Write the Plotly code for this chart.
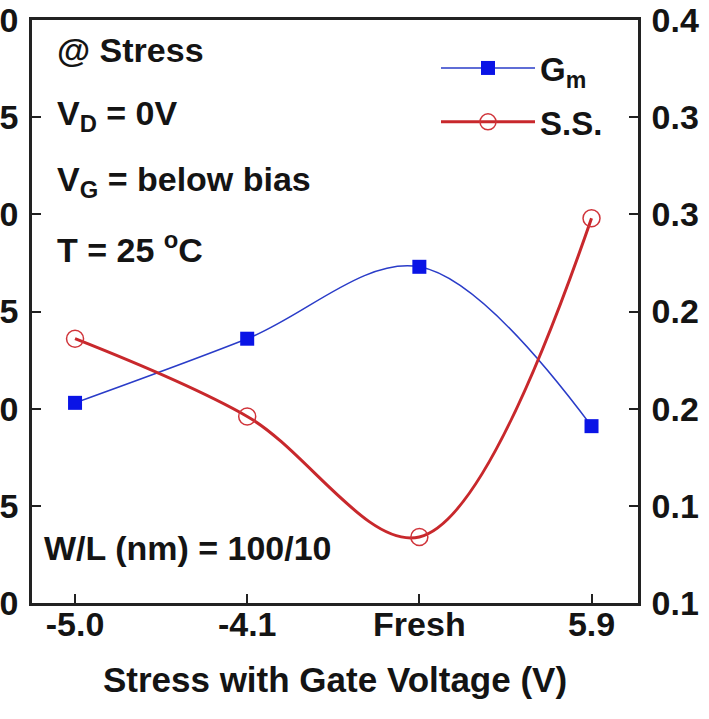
import plotly.graph_objects as go

categories = ["-5.0", "-4.1", "Fresh", "5.9"]
gm_values = [10.3, 13.6, 17.3, 9.1]
ss_values = [0.236, 0.196, 0.134, 0.298]

left_tickvals = [0, 5, 10, 15, 20, 25, 30]
left_ticktext = ["0", "5", "0", "5", "0", "5", "0"]
right_tickvals = [0.10, 0.15, 0.20, 0.25, 0.30, 0.35, 0.40]
right_ticktext = ["0.1", "0.1", "0.2", "0.2", "0.3", "0.3", "0.4"]

FONT = "Liberation Sans, Arial, sans-serif"
TXT = "#141414"
xidx = list(range(len(categories)))

fig = go.Figure()
fig.add_trace(go.Scatter(
    x=xidx, y=gm_values, name="G<sub>m</sub>", mode="lines+markers",
    line=dict(color="#2a3cc8", width=1.5, shape="spline", smoothing=1.0),
    marker=dict(symbol="square", size=14, color="#0a14e6", line=dict(width=0)),
    yaxis="y", legendgroup="gm",
))
fig.add_trace(go.Scatter(
    x=xidx, y=ss_values, name="S.S.", mode="lines+markers",
    line=dict(color="#c8282c", width=3, shape="spline", smoothing=1.0),
    marker=dict(symbol="circle-open", size=17, color="#d0343a", line=dict(width=1.5)),
    yaxis="y2", legendgroup="ss",
))

PL, PR, PT, PB = 32, 638, 20, 603
PW, PH = PR - PL, PB - PT


def px(x):
    return (x - PL) / PW


def py(y):
    return 1 - (y - PT) / PH


ann = [
    ("@ Stress", 55, 50),
    ("V<sub>D</sub> = 0V", 55, 115),
    ("V<sub>G</sub> = below bias", 55, 182),
    ("T = 25 <sup>o</sup>C", 55, 248),
    ("W/L (nm) = 100/10", 42, 548),
]
annotations = []
for t, x, y in ann:
    annotations.append(dict(text=t, xref="paper", yref="paper", x=px(x), y=py(y),
                            xanchor="left", yanchor="middle", showarrow=False,
                            font=dict(family=FONT, size=34, color=TXT, weight="bold")))

tick_common = dict(showline=True, linecolor="#222", linewidth=2.5,
                   ticks="inside", ticklen=9, tickwidth=2, tickcolor="#222",
                   showgrid=False, zeroline=False, automargin=False,
                   tickfont=dict(family=FONT, size=34, color=TXT, weight="bold"))

fig.update_layout(
    width=709, height=719,
    margin=dict(l=PL, r=709 - PR, t=PT, b=719 - PB),
    paper_bgcolor="white", plot_bgcolor="white",
    font=dict(family=FONT, color=TXT),
    showlegend=True,
    legend=dict(x=px(436), y=py(40), xanchor="left", yanchor="top",
                bgcolor="rgba(0,0,0,0)",
                font=dict(family=FONT, size=33, color=TXT, weight="bold"),
                itemwidth=94, tracegroupgap=8),
    xaxis=dict(
        range=[-0.25, 3.27], tickmode="array", tickvals=xidx, ticktext=categories,
        mirror=True, ticklabelstandoff=-11,
        title=dict(text="Stress with Gate Voltage (V)", standoff=26,
                   font=dict(family=FONT, size=35, color=TXT, weight="bold")),
        **tick_common,
    ),
    yaxis=dict(
        range=[0, 30], tickmode="array", tickvals=left_tickvals, ticktext=left_ticktext,
        ticklabelstandoff=4, **tick_common,
    ),
    yaxis2=dict(
        range=[0.10, 0.40], overlaying="y", side="right",
        tickmode="array", tickvals=right_tickvals, ticktext=right_ticktext,
        ticklabelstandoff=4, **tick_common,
    ),
    annotations=annotations,
)

fig.write_html("out.html", config={"displayModeBar": False},
               post_script="document.body.style.margin='0';")
